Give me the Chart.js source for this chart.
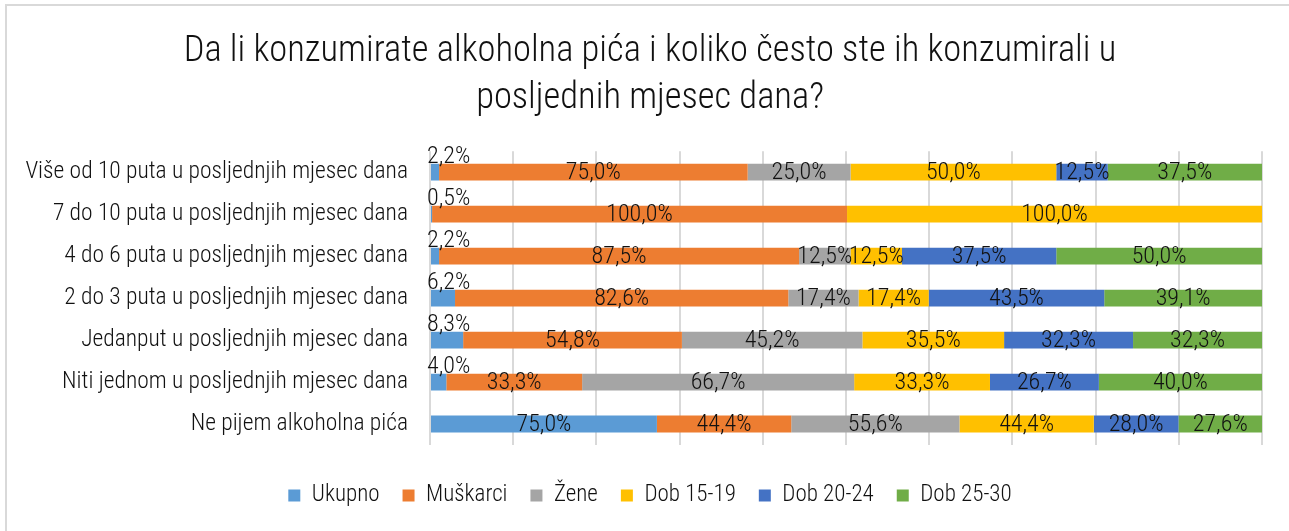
<!DOCTYPE html>
<html>
<head>
<meta charset="utf-8">
<script src="https://cdn.jsdelivr.net/npm/chart.js@4"></script>
<style>
    html, body { margin: 0; padding: 0; background: #fff; }
    #wrap { position: relative; width: 1289px; height: 531px; overflow: hidden; }
    #frame { position: absolute; left: 5px; top: 4px; width: 1400px; height: 600px;
             border-left: 2px solid #d9d9d9; border-top: 2px solid #d9d9d9; }
    canvas { position: absolute; left: 0; top: 0; }
</style>
</head>
<body>
<div id="wrap">
    <div id="frame"></div>
    <canvas id="chart" width="1289" height="531"></canvas>
</div>
<script>
const categories = [
    'Više od 10 puta u posljednjih mjesec dana',
    '7 do 10 puta u posljednjih mjesec dana',
    '4 do 6 puta u posljednjih mjesec dana',
    '2 do 3 puta u posljednjih mjesec dana',
    'Jedanput u posljednjih mjesec dana',
    'Niti jednom u posljednjih mjesec dana',
    'Ne pijem alkoholna pića'
];
const ukupno   = [2.2, 0.5, 2.2, 6.2, 8.3, 4.0, 75.0];
const muskarci = [75.0, 100.0, 87.5, 82.6, 54.8, 33.3, 44.4];
const zene     = [25.0, 0, 12.5, 17.4, 45.2, 66.7, 55.6];
const dob1519  = [50.0, 100.0, 12.5, 17.4, 35.5, 33.3, 44.4];
const dob2024  = [12.5, 0, 37.5, 43.5, 32.3, 26.7, 28.0];
const dob2530  = [37.5, 0, 50.0, 39.1, 32.3, 40.0, 27.6];

const seriesNames = ['Ukupno', 'Muškarci', 'Žene', 'Dob 15-19', 'Dob 20-24', 'Dob 25-30'];
const seriesColors = ['#5B9BD5', '#ED7D31', '#A5A5A5', '#FFC000', '#4472C4', '#70AD47'];
const allSeries = [ukupno, muskarci, zene, dob1519, dob2024, dob2530];

const FONT = '"Roboto Condensed", "DejaVu Sans Condensed", "Liberation Sans Narrow", "DejaVu Sans", sans-serif';
const STRETCH = '300 condensed';

// 100% stacked: each row is scaled to its own total
const rowTotals = categories.map((c, i) => allSeries.reduce((s, arr) => s + arr[i], 0));

const datasets = allSeries.map((arr, k) => ({
    label: seriesNames[k],
    data: arr.map((v, i) => v / rowTotals[i] * 100),
    raw: arr,
    backgroundColor: seriesColors[k],
    borderWidth: 0,
    categoryPercentage: 1,
    barPercentage: 0.4
}));

function fmt(v) {
    return v.toFixed(1).replace('.', ',') + '%';
}

// draw the value labels like the Excel data labels
const valueLabels = {
    id: 'valueLabels',
    afterLayout(chart) {
        // let the long category labels run past the y scale box
        chart.scales.y._computeLabelArea = () => null;
    },
    afterDatasetsDraw(chart) {
        const ctx = chart.ctx;
        ctx.save();
        ctx.font = STRETCH + ' 24px ' + FONT;
        ctx.fillStyle = '#111';
        ctx.textBaseline = 'middle';
        chart.data.datasets.forEach((ds, k) => {
            const meta = chart.getDatasetMeta(k);
            meta.data.forEach((bar, i) => {
                const v = ds.raw[i];
                if (!v) return;
                if (k === 0 && i < 6) {
                    ctx.textAlign = 'left';
                    ctx.fillText(fmt(v), bar.base - 4, bar.y - 15);
                } else {
                    ctx.textAlign = 'center';
                    ctx.fillText(fmt(v), (bar.x + bar.base) / 2, bar.y + 1);
                }
            });
        });
        ctx.restore();
    }
};

const ctx = document.getElementById('chart').getContext('2d');
new Chart(ctx, {
    type: 'bar',
    data: { labels: categories, datasets: datasets },
    options: {
        indexAxis: 'y',
        responsive: false,
        animation: false,
        layout: { padding: { left: 38, right: 27, top: 0, bottom: 14 } },
        plugins: {
            title: {
                display: true,
                text: ['Da li konzumirate alkoholna pića i koliko često ste ih konzumirali u', 'posljednih mjesec dana?'],
                color: '#111',
                font: { family: FONT, size: 36.5, weight: STRETCH, lineHeight: 1.29 },
                padding: { top: 28, bottom: 29 }
            },
            legend: {
                position: 'bottom',
                labels: {
                    color: '#111',
                    font: { family: FONT, size: 23, weight: STRETCH },
                    boxWidth: 12,
                    boxHeight: 12,
                    padding: 23
                }
            },
            tooltip: { enabled: false }
        },
        scales: {
            x: {
                stacked: true,
                min: 0,
                max: 100,
                ticks: { display: false, stepSize: 10 },
                grid: { color: '#d9d9d9', lineWidth: 2, drawTicks: false },
                border: { display: false },
                afterFit: function(scale) { scale.height = 16; }
            },
            y: {
                stacked: true,
                ticks: { color: '#111', font: { family: FONT, size: 23.5, weight: STRETCH }, padding: 14 },
                grid: { display: false },
                border: { display: false },
                afterFit: function(scale) { scale.width = 392; }
            }
        }
    },
    plugins: [valueLabels]
});
</script>
</body>
</html>
